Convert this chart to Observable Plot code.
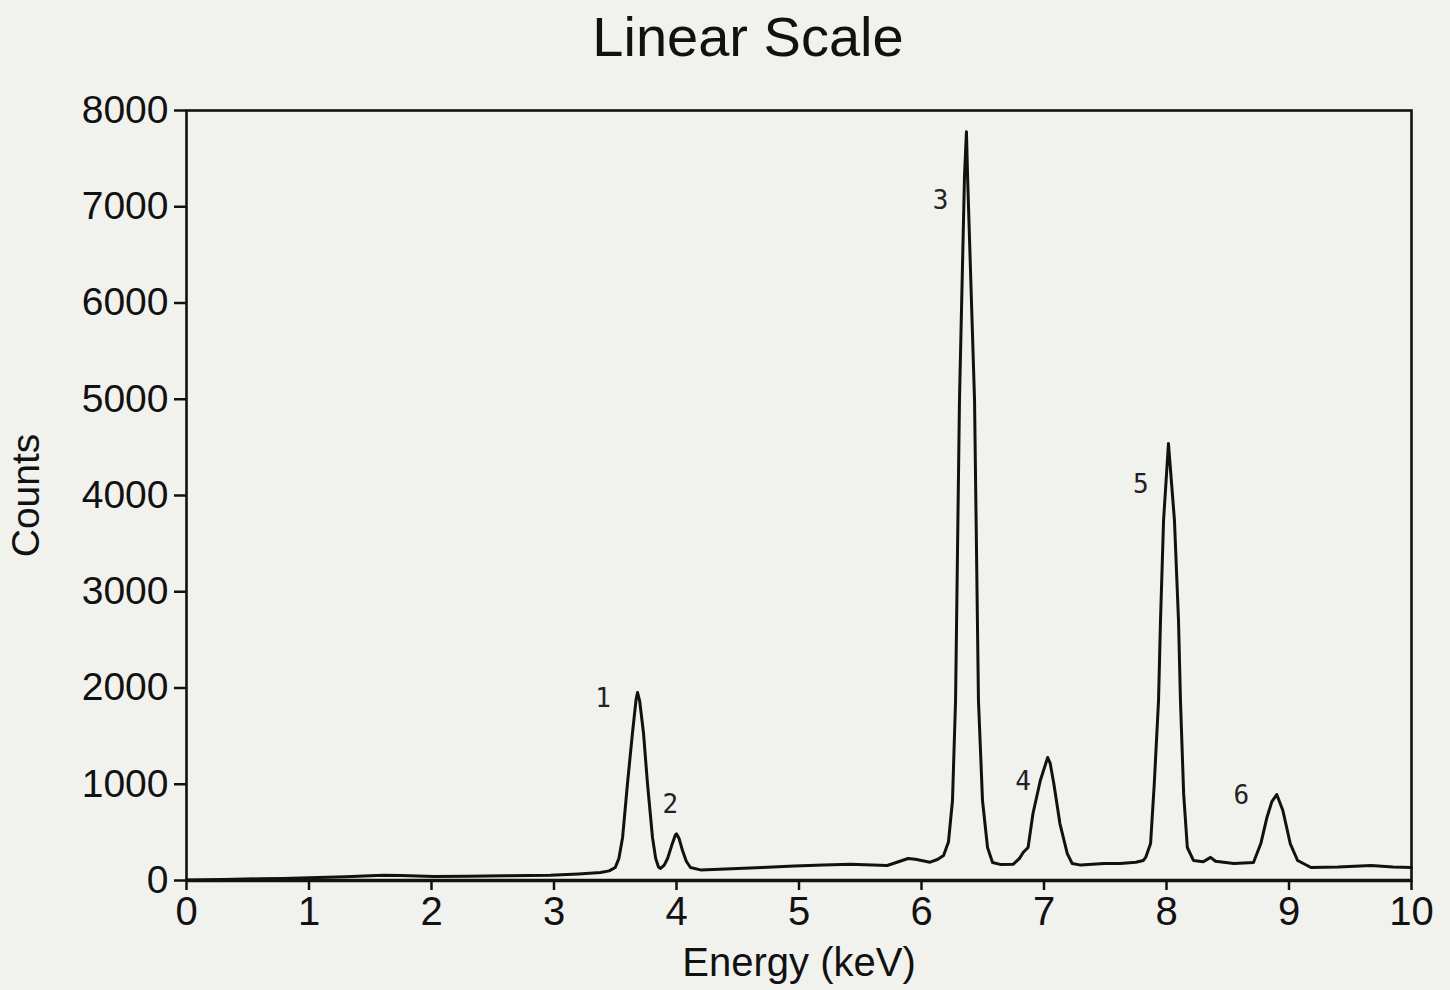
<!DOCTYPE html>
<html><head><meta charset="utf-8">
<script src="https://cdn.jsdelivr.net/npm/d3@7"></script>
<script src="https://cdn.jsdelivr.net/npm/@observablehq/plot@0.6"></script>
<style>
body{margin:0;background:#f1f1ed;width:1450px;height:990px;overflow:hidden;font-family:"Liberation Sans",Arial,sans-serif}
#title{position:absolute;left:748px;top:0;transform:translateX(-50%);font-size:56px;line-height:73px;color:#111;white-space:nowrap}
#chart{position:absolute;left:0;top:75px}
</style></head><body>
<div id="title">Linear Scale</div>
<div id="chart"></div>
<script>
// Spectrum (energy in keV, counts)
const energy = [0.00,0.30,0.60,0.79,1.00,1.30,1.50,1.61,1.75,2.02,2.30,2.60,2.97,3.20,3.38,3.45,3.50,3.53,3.56,3.60,3.64,3.67,3.682,3.70,3.731,3.763,3.804,3.83,3.853,3.87,3.90,3.927,3.96,3.99,4.00,4.02,4.049,4.08,4.114,4.196,4.40,4.70,4.96,5.20,5.42,5.60,5.72,5.80,5.89,5.95,6.07,6.13,6.18,6.22,6.253,6.278,6.31,6.351,6.367,6.376,6.433,6.465,6.498,6.539,6.58,6.65,6.75,6.80,6.83,6.87,6.91,6.97,7.03,7.05,7.08,7.13,7.19,7.23,7.30,7.49,7.62,7.75,7.81,7.83,7.87,7.90,7.935,7.951,7.976,8.016,8.065,8.098,8.114,8.14,8.17,8.22,8.30,8.36,8.40,8.55,8.71,8.77,8.82,8.86,8.90,8.95,9.01,9.07,9.18,9.40,9.67,9.85,10.00];
const counts = [5,10,18,21,28,40,50,55,52,42,45,50,55,68,83,100,135,230,447,1008,1527,1880,1953,1860,1527,1008,447,230,140,125,160,229,360,470,485,440,312,200,135,110,120,135,150,160,170,160,156,190,229,220,190,218,260,400,831,1870,4990,7320,7780,7320,4990,1870,831,343,187,165,170,230,291,343,696,1039,1278,1220,1008,592,280,177,160,177,177,190,208,240,384,1000,1870,2701,3740,4540,3740,2701,1870,900,343,208,195,240,200,177,187,384,655,820,893,727,384,208,135,140,156,140,135];
// Peak labels
const peakLabels = ["1","2","3","4","5","6"];
const peakLabelEnergy = [3.40,3.95,6.155,6.83,7.79,8.61];
const peakLabelCounts = [1891,790,7065,1029,4114,883];
// Ticks
const xTicks = [0,1,2,3,4,5,6,7,8,9,10];
const yTicks = [0,1000,2000,3000,4000,5000,6000,7000,8000];

const spectrum = energy.map((e,i)=>({energy:e, counts:counts[i]}));
const labels = peakLabels.map((t,i)=>({t, energy:peakLabelEnergy[i], counts:peakLabelCounts[i]}));

const chart = Plot.plot({
  width:1450, height:915,
  marginLeft:186, marginRight:39, marginTop:35, marginBottom:110,
  style:{background:"transparent", fontFamily:"'Liberation Sans', Arial, sans-serif", color:"#111", overflow:"visible"},
  x:{domain:[0,10]},
  y:{domain:[0,8000]},
  marks:[
    Plot.frame({stroke:"#111", strokeWidth:2.6}),
    Plot.ruleY([0], {stroke:"#111", strokeWidth:3.5}),
    Plot.axisX({ticks:xTicks, tickSize:10, tickPadding:6, fontSize:39, tickFormat:d3.format("d"), label:"Energy (keV)", labelAnchor:"center", labelArrow:"none", labelOffset:95, strokeWidth:2.5, fontSize:40}),
    Plot.axisY({ticks:yTicks, tickSize:12, tickPadding:6, fontSize:39, tickFormat:d3.format("d"), label:"Counts", labelAnchor:"center", labelArrow:"none", labelOffset:175, strokeWidth:2.5}),
    Plot.line(spectrum, {x:"energy", y:"counts", stroke:"#111", strokeWidth:3, strokeLinejoin:"round"}),
    Plot.text(labels, {x:"energy", y:"counts", text:"t", fontSize:26, fontFamily:"DejaVu Sans Mono", fill:"#222"})
  ]
});
document.getElementById("chart").appendChild(chart);
</script>
</body></html>
